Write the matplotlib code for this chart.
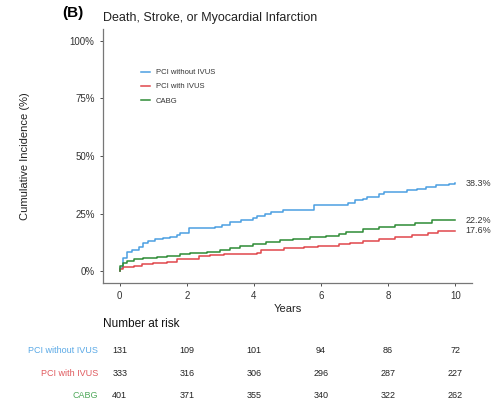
import matplotlib
matplotlib.use("Agg")
import matplotlib.pyplot as plt

plt.rcParams['font.family'] = ['Liberation Sans', 'DejaVu Sans']

# Kaplan-Meier style cumulative incidence (%) by year
t_pci = [0, 0.02, 0.1, 0.22, 0.36, 0.56, 0.7, 0.85, 1.06, 1.3, 1.5, 1.7, 1.8, 2.07,
         2.85, 3.05, 3.28, 3.6, 3.97, 4.1, 4.32, 4.52, 4.86, 5.8, 6.8, 7.0, 7.24,
         7.38, 7.74, 7.89, 8.57, 8.86, 9.12, 9.42, 9.8, 10.0]
y_pci = [0, 1.6, 5.9, 8.6, 9.3, 10.7, 12.3, 13.3, 14.0, 14.5, 15.0, 15.8, 16.5, 18.6,
         19.3, 20.3, 21.5, 22.4, 23.2, 23.9, 24.9, 25.8, 26.8, 28.6, 29.6, 30.8, 31.5,
         32.2, 33.4, 34.4, 35.1, 35.8, 36.5, 37.5, 38.0, 38.3]

t_ivus = [0, 0.02, 0.1, 0.42, 0.65, 1.0, 1.4, 1.7, 2.1, 2.35, 2.7, 3.1, 4.1, 4.2,
          4.9, 5.5, 5.9, 6.55, 6.85, 7.24, 7.74, 8.2, 8.7, 9.2, 9.5, 10.0]
y_ivus = [0, 1.0, 1.9, 2.2, 3.2, 3.6, 4.3, 5.3, 5.6, 6.5, 7.0, 7.6, 8.2, 9.3,
          10.0, 10.7, 11.0, 11.9, 12.2, 13.2, 13.9, 15.0, 15.8, 16.8, 17.6, 17.6]

t_cabg = [0, 0.02, 0.1, 0.22, 0.42, 0.7, 1.1, 1.4, 1.8, 2.1, 2.6, 3.0, 3.3, 3.58,
          3.97, 4.37, 4.77, 5.16, 5.66, 6.15, 6.55, 6.75, 7.24, 7.74, 8.2, 8.8, 9.3, 10.0]
y_cabg = [0, 2.5, 3.6, 4.7, 5.3, 5.9, 6.2, 6.7, 7.5, 7.9, 8.6, 9.3, 10.2, 11.0,
          11.9, 12.9, 13.6, 14.0, 14.8, 15.5, 16.3, 17.2, 18.2, 19.3, 20.1, 20.8, 22.2, 22.2]

groups = ["PCI without IVUS", "PCI with IVUS", "CABG"]
colors = ["#4b9fe1", "#e0474c", "#2e8b35"]
table_colors = ["#5aa9e6", "#e05a5e", "#4fa85a"]
final_labels = ["38.3%", "17.6%", "22.2%"]

risk_times = [0, 2, 4, 6, 8, 10]
risk_pci = [131, 109, 101, 94, 86, 72]
risk_ivus = [333, 316, 306, 296, 287, 227]
risk_cabg = [401, 371, 355, 340, 322, 262]

fig = plt.figure(figsize=(4.91, 4.07), dpi=100)
ax = fig.add_axes([0.2098, 0.3047, 0.7515, 0.624])

series = [(t_pci, y_pci), (t_ivus, y_ivus), (t_cabg, y_cabg)]
for (t, y), name, col in zip(series, groups, colors):
    ax.plot(t, y, drawstyle='steps-post', color=col, lw=1.1, label=name)

for (t, y), lab in zip(series, final_labels):
    ax.text(10.3, y[-1], lab, fontsize=6.5, color='#333333', va='center', ha='left',
            clip_on=False)

ax.set_xlim(-0.5, 10.5)
ax.set_ylim(-5, 105)
ax.set_xticks([0, 2, 4, 6, 8, 10])
ax.set_yticks([0, 25, 50, 75, 100])
ax.set_yticklabels(["0%", "25%", "50%", "75%", "100%"])
ax.tick_params(labelsize=7, colors='#333333', length=2.5, width=0.6)
for side in ['top', 'right']:
    ax.spines[side].set_visible(False)
for side in ['left', 'bottom']:
    ax.spines[side].set_color('#777777')
    ax.spines[side].set_linewidth(0.9)

ax.set_xlabel("Years", fontsize=8, color='#222222', labelpad=2)
ax.set_ylabel("Cumulative Incidence (%)", fontsize=8, color='#222222', labelpad=29)

ax.legend(loc='upper left', bbox_to_anchor=(0.083, 0.87), frameon=False,
          fontsize=5.5, handlelength=1.2, handletextpad=0.8, labelspacing=0.9,
          labelcolor='#333333')

fig.text(0.127, 0.968, "(B)", fontsize=11, fontweight='bold', va='center')
fig.text(0.21, 0.957, "Death, Stroke, or Myocardial Infarction", fontsize=9,
         color='#222222', va='center')

# Number-at-risk table below the plot, aligned on the same x scale
tab = fig.add_axes([0.2098, 0.0, 0.7515, 0.24])
tab.set_xlim(ax.get_xlim())
tab.set_ylim(0, 1)
tab.axis('off')
fig.text(0.21, 0.204, "Number at risk", fontsize=8.5, color='#111111', va='center')

rows = [risk_pci, risk_ivus, risk_cabg]
row_y = [0.583, 0.348, 0.113]
for name, vals, col, yy in zip(groups, rows, table_colors, row_y):
    tab.text(-0.65, yy, name, fontsize=6.5, color=col, ha='right', va='center')
    for tt, v in zip(risk_times, vals):
        tab.text(tt, yy, str(v), fontsize=6.5, color='#222222', ha='center', va='center')

fig.savefig("out.png", dpi=100)
